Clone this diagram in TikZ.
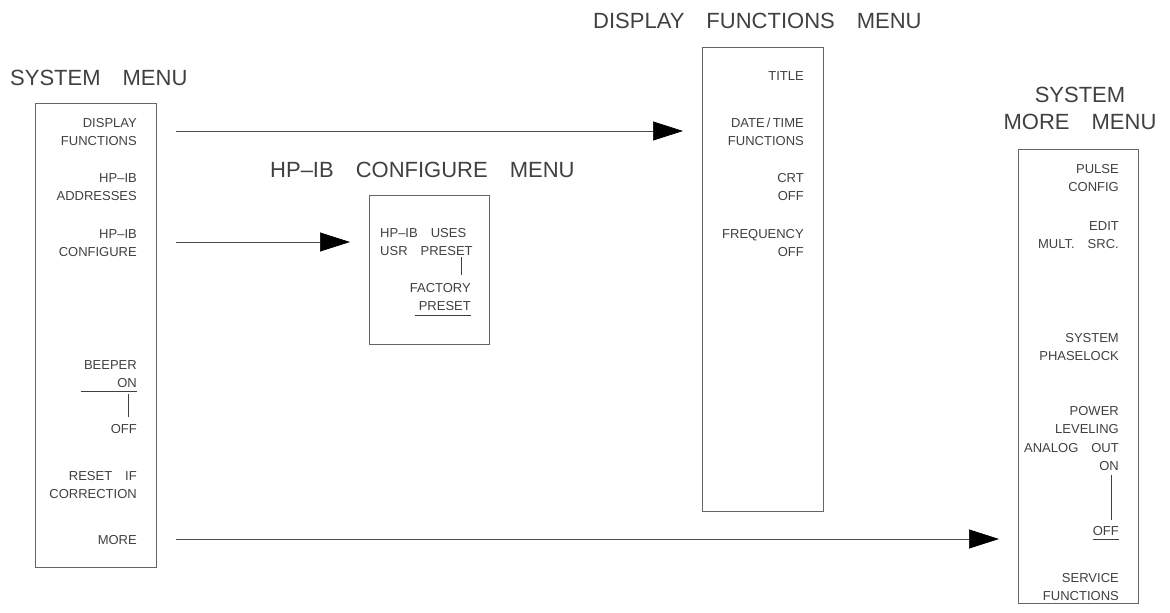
\documentclass[tikz,border=0pt]{standalone}
\usepackage{fontspec}
\setmainfont{Liberation Sans}
\usetikzlibrary{arrows.meta,positioning,calc}

\newcommand{\gap}{\hspace{1em}}

\tikzset{
  menubox/.style={draw=black!60,line width=0.7pt,inner sep=0,anchor=north west},
  item/.style={font=\fontsize{13}{18}\selectfont,text=black!75,align=right,anchor=base east,inner sep=0},
  menutitle/.style={font=\fontsize{22}{27}\selectfont,text=black!75,anchor=base west,inner sep=0},
  menuarrow/.style={-{Triangle[length=30pt,width=19pt,color=black]},draw=black!70,line width=0.7pt,shorten <=19pt,shorten >=19pt},
  toggle/.style={line width=0.6pt,black!75}
}

\begin{document}
\begin{tikzpicture}[x=1pt,y=-1pt]
\useasboundingbox (0,0) rectangle (1170,613);

% titles
\node[menutitle] (systitle) at (10,85) {SYSTEM\gap MENU};
\node[menutitle] (hptitle) at (270,177) {HP--IB\gap CONFIGURE\gap MENU};
\node[menutitle] (dftitle) at (593,28) {DISPLAY\gap FUNCTIONS\gap MENU};
\node[menutitle,align=center,anchor=base] (moretitle) at (1080,129) {SYSTEM\\MORE\gap MENU};

% boxes
\node[menubox,minimum width=121pt,minimum height=464pt] (sysbox) at (35,103) {};
\node[menubox,minimum width=120pt,minimum height=149pt] (hpbox) at (369,195) {};
\node[menubox,minimum width=121pt,minimum height=464pt] (dfbox) at (702,47) {};
\node[menubox,minimum width=120pt,minimum height=454pt] (morebox) at (1018,149) {};

% system menu
\node[item] (dispfn) at (137,145) {DISPLAY\\FUNCTIONS};
\node[item] (hpaddr) at (137,200) {HP--IB\\ADDRESSES};
\node[item] (hpconf) at (137,256) {HP--IB\\CONFIGURE};
\node[item] (beeper) at (137,387) {BEEPER\\ON};
\node[item] (beepoff) at (137,433) {OFF};
\node[item] (resetif) at (137,498) {RESET\gap IF\\CORRECTION};
\node[item] (more) at (137,544) {MORE};
\draw[toggle] ([yshift=-4pt]beeper.base east) -- ++(-56pt,0pt);
\draw[toggle] ([shift={(-9pt,-7pt)}]beeper.base east) -- ++(0pt,-23pt);

% hp-ib configure menu
\node[item,align=left,anchor=base west] (hpuses) at (380,255) {HP--IB\gap USES\\USR\gap PRESET};
\node[item] (factory) at (471,310) {FACTORY\\PRESET};
\draw[toggle] ([shift={(-10pt,53pt)}]factory.base east) -- ++(0pt,-18pt);
\draw[toggle] ([yshift=-5pt]factory.base east) -- ++(-56pt,0pt);

% display functions menu
\node[item] (title) at (804,80) {TITLE};
\node[item] (datetime) at (804,145) {DATE\,/\,TIME\\FUNCTIONS};
\node[item] (crt) at (804,200) {CRT\\OFF};
\node[item] (freq) at (804,256) {FREQUENCY\\OFF};

% system more menu
\node[item] (pulse) at (1119,191) {PULSE\\CONFIG};
\node[item] (multsrc) at (1119,248) {EDIT\\MULT.\gap SRC.};
\node[item] (phaselock) at (1119,360) {SYSTEM\\PHASELOCK};
\node[item] (leveling) at (1119,433) {POWER\\LEVELING};
\node[item] (analog) at (1119,470) {ANALOG\gap OUT\\ON};
\node[item] (anoff) at (1119,535) {OFF};
\node[item] (service) at (1119,600) {SERVICE\\FUNCTIONS};
\draw[toggle] ([shift={(-8pt,-5pt)}]analog.base east) -- ++(0pt,-45pt);
\draw[toggle] ([yshift=-4pt]anoff.base west) -- ([yshift=-4pt]anoff.base east);

% arrows
\draw[menuarrow] ([yshift=14pt]sysbox.east |- dispfn.base) -- ([yshift=14pt]dfbox.west |- dispfn.base);
\draw[menuarrow] ([yshift=14pt]sysbox.east |- hpconf.base) -- ([yshift=14pt]hpbox.west |- hpconf.base);
\draw[menuarrow] ([yshift=5pt]sysbox.east |- more.base) -- ([yshift=5pt]morebox.west |- more.base);
\end{tikzpicture}
\end{document}
